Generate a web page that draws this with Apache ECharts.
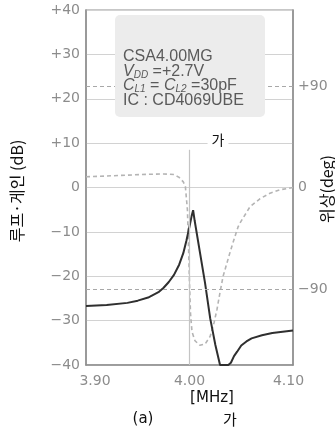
<!DOCTYPE html>
<html>
<head>
<meta charset="utf-8">
<script src="https://cdn.jsdelivr.net/npm/echarts@6/dist/echarts.min.js"></script>
<style>
  html, body { margin: 0; padding: 0; background: #fff; }
  #chart { width: 335px; height: 434px; }
</style>
</head>
<body>
<div id="chart"></div>
<script>
// Loop gain of the ceramic-resonator oscillator (solid, left axis, dB)
const gainFreq = [3.900, 3.920, 3.940, 3.950, 3.960, 3.970, 3.975, 3.980, 3.985, 3.990,
                  3.994, 3.997, 4.000, 4.002, 4.0035, 4.005, 4.010, 4.015, 4.020, 4.025,
                  4.0295, 4.0375, 4.040, 4.043, 4.046, 4.050, 4.055, 4.060, 4.070, 4.080,
                  4.090, 4.100];
const gainDb = [-26.7, -26.5, -26.0, -25.5, -24.8, -23.6, -22.6, -21.3, -19.7, -17.4,
                -14.8, -12.0, -8.8, -6.5, -5.1, -7.5, -14.5, -21.5, -29.5, -35.5,
                -40, -40, -39.5, -38.0, -37.0, -35.6, -34.7, -34.0, -33.3, -32.8,
                -32.5, -32.2];

// Loop phase (dashed, right axis, deg)
const phaseFreq = [3.900, 3.920, 3.940, 3.960, 3.975, 3.985, 3.990, 3.994, 3.996, 3.998,
                   3.999, 4.000, 4.001, 4.0024, 4.0053, 4.010, 4.015, 4.020, 4.0237, 4.0266,
                   4.0295, 4.0324, 4.039, 4.042, 4.0469, 4.0488, 4.0585, 4.068, 4.0778, 4.0874,
                   4.100];
const phaseDeg = [9.5, 10.2, 11.0, 11.7, 12.0, 11.5, 9.0, 5.0, 1.0, -20,
                  -50, -85, -112, -128, -136, -140, -139, -132, -120, -108,
                  -93, -79, -58, -49, -35, -31.5, -17, -10, -5, -2,
                  0];

// Axis ticks
const freqTicks = [3.90, 4.00, 4.10];
const gainMin = -40, gainMax = 40, gainStep = 10;
const phaseTicks = [-90, 0, 90];
const phaseRange = 157.5;   // phase axis spans ±157.5° over the same height as ±40 dB
const phaseGuides = [90, -90];

const signed = v => v > 0 ? '+' + v : (v < 0 ? '\u2212' + (-v) : '0');
const tickFont = 'DejaVu Sans';
const tickColor = '#8c8c8c';
const frameColor = '#8f8f8f';
const noteColor = '#5a5a5a';

const chart = echarts.init(document.getElementById('chart'), null, { renderer: 'canvas' });

chart.setOption({
  animation: false,
  backgroundColor: '#ffffff',
  grid: { left: 86, right: 42, top: 10, bottom: 69, show: true, borderColor: frameColor, borderWidth: 1.2 },
  xAxis: {
    type: 'value', min: 3.9, max: 4.1,
    axisLine: { show: true, onZero: false, lineStyle: { color: frameColor, width: 1.5 } },
    axisTick: { show: false },
    splitLine: { show: false },
    axisLabel: {
      customValues: freqTicks,
      margin: 9,
      color: tickColor, fontSize: 14, fontFamily: tickFont,
      formatter: v => {
        const s = v.toFixed(2);
        if (Math.abs(v - freqTicks[0]) < 1e-6) return '{first|' + s + '}';
        if (Math.abs(v - freqTicks[freqTicks.length - 1]) < 1e-6) return '{last|' + s + '}';
        return s;
      },
      rich: {
        first: { padding: [0, 0, 0, 18], color: tickColor, fontSize: 14, fontFamily: tickFont },
        last: { padding: [0, 9, 0, 0], color: tickColor, fontSize: 14, fontFamily: tickFont }
      }
    }
  },
  yAxis: [
    {
      type: 'value', position: 'left', min: gainMin, max: gainMax, interval: gainStep,
      axisLine: { show: true, onZero: false, lineStyle: { color: frameColor, width: 1.5 } },
      axisTick: { show: false },
      splitLine: { show: true, lineStyle: { color: '#d2d2d2', width: 1.2 } },
      axisLabel: { margin: 6, color: tickColor, fontSize: 14, fontFamily: tickFont, formatter: signed }
    },
    {
      type: 'value', position: 'right', min: -phaseRange, max: phaseRange,
      axisLine: { show: true, onZero: false, lineStyle: { color: frameColor, width: 1.5 } },
      axisTick: { show: false },
      splitLine: { show: false },
      axisLabel: {
        customValues: phaseTicks,
        margin: 5, color: tickColor, fontSize: 14, fontFamily: tickFont, formatter: signed
      }
    }
  ],
  series: [
    {
      name: 'phase', type: 'line', yAxisIndex: 1, symbol: 'none', z: 3,
      data: phaseFreq.map((f, i) => [f, phaseDeg[i]]),
      lineStyle: { color: '#b4b4b4', width: 1.6, type: [4, 3] },
      markLine: {
        silent: true, symbol: ['none', 'none'], label: { show: false },
        lineStyle: { color: '#a8a8a8', width: 1.2, type: [4, 3] },
        data: phaseGuides.map(v => ({ yAxis: v }))
      }
    },
    {
      name: 'gain', type: 'line', yAxisIndex: 0, symbol: 'none', z: 4,
      data: gainFreq.map((f, i) => [f, gainDb[i]]),
      lineStyle: { color: '#2f2f2f', width: 2 },
      markLine: {
        silent: true, symbol: ['none', 'none'], label: { show: false },
        lineStyle: { color: '#c4c4c4', width: 1.2, type: 'solid' },
        data: [[{ coord: [4.0, 8.5] }, { coord: [4.0, gainMin] }]]
      }
    }
  ],
  graphic: [
    // oscillator conditions box
    { type: 'rect', z: 50, shape: { x: 115, y: 15, width: 150, height: 102, r: 5 },
      style: { fill: '#ececec' } },
    { type: 'text', z: 51, x: 123, y: 57,
      style: { text: 'CSA4.00MG', fill: noteColor, fontSize: 16, fontFamily: 'Liberation Sans', textVerticalAlign: 'middle' } },
    { type: 'text', z: 51, x: 123, y: 71.5,
      style: {
        text: '{i|V}{s|DD}{n| =+2.7V}', fill: noteColor, textVerticalAlign: 'middle',
        rich: {
          i: { fontSize: 16, fontStyle: 'italic', fontFamily: 'Liberation Sans', fill: noteColor },
          s: { fontSize: 10, fontStyle: 'italic', fontFamily: 'Liberation Sans', fill: noteColor, padding: [7, 0, 0, 0] },
          n: { fontSize: 16, fontFamily: 'Liberation Sans', fill: noteColor }
        }
      } },
    { type: 'text', z: 51, x: 123, y: 86,
      style: {
        text: '{i|C}{s|L1}{n| = }{i|C}{s|L2}{n| =30pF}', fill: noteColor, textVerticalAlign: 'middle',
        rich: {
          i: { fontSize: 16, fontStyle: 'italic', fontFamily: 'Liberation Sans', fill: noteColor },
          s: { fontSize: 10, fontStyle: 'italic', fontFamily: 'Liberation Sans', fill: noteColor, padding: [7, 0, 0, 0] },
          n: { fontSize: 16, fontFamily: 'Liberation Sans', fill: noteColor }
        }
      } },
    { type: 'text', z: 51, x: 123, y: 100.5,
      style: { text: 'IC : CD4069UBE', fill: noteColor, fontSize: 16, fontFamily: 'Liberation Sans', textVerticalAlign: 'middle' } },

    // inline marker inside the plot
    { type: 'text', z: 51, x: 218, y: 140,
      style: { text: '가', fill: '#111', fontSize: 14, fontFamily: 'Noto Sans CJK KR', textAlign: 'center', textVerticalAlign: 'middle',
               backgroundColor: '#fff', padding: [2, 4] } },

    // axis titles
    { type: 'text', z: 51, x: 17, y: 191, rotation: Math.PI / 2,
      style: { text: '루프·게인 (dB)', fill: '#111', fontSize: 16, fontFamily: 'Noto Sans CJK KR', textAlign: 'center', textVerticalAlign: 'middle' } },
    { type: 'text', z: 51, x: 327, y: 189, rotation: Math.PI / 2,
      style: { text: '위상(deg)', fill: '#111', fontSize: 16, fontFamily: 'Noto Sans CJK KR', textAlign: 'center', textVerticalAlign: 'middle' } },
    { type: 'text', z: 51, x: 212, y: 398,
      style: { text: '[MHz]', fill: '#111', fontSize: 15, fontFamily: 'DejaVu Sans', textAlign: 'center', textVerticalAlign: 'middle' } },
    { type: 'text', z: 51, x: 230, y: 419,
      style: { text: '가', fill: '#111', fontSize: 15, fontFamily: 'Noto Sans CJK KR', textAlign: 'center', textVerticalAlign: 'middle' } },
    { type: 'text', z: 51, x: 143, y: 419,
      style: { text: '(a)', fill: '#111', fontSize: 15, fontFamily: 'DejaVu Sans', textAlign: 'center', textVerticalAlign: 'middle' } }
  ]
});
</script>
</body>
</html>
